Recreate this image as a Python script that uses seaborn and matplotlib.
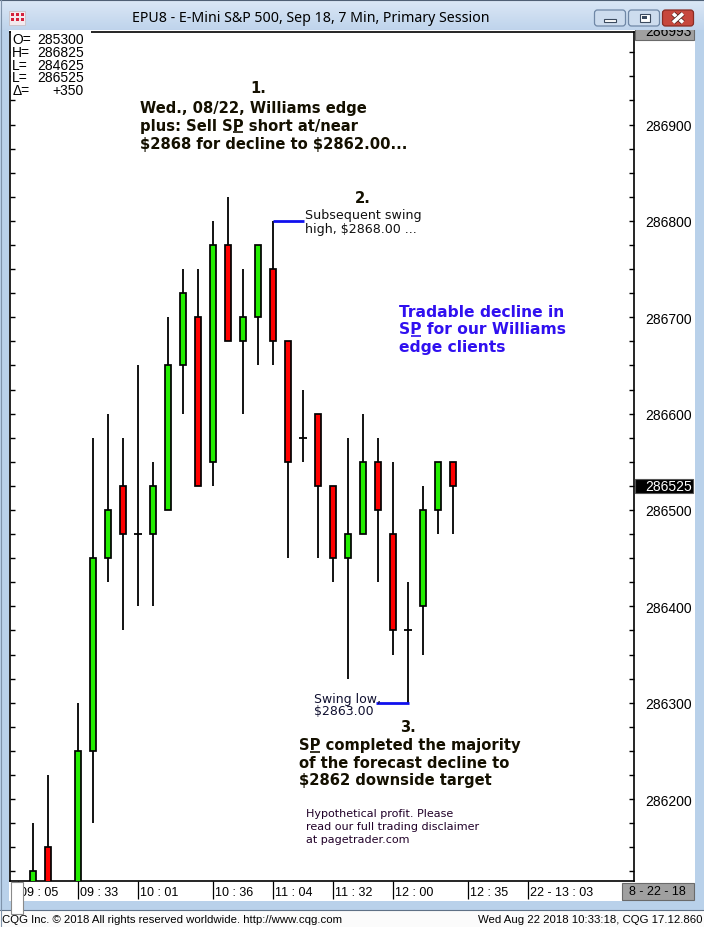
import numpy as np
import pandas as pd
import matplotlib
matplotlib.use("Agg")
import matplotlib.pyplot as plt
import matplotlib.transforms as mtransforms
from matplotlib.patches import Rectangle, FancyBboxPatch
from matplotlib.ticker import MultipleLocator, FuncFormatter
import matplotlib.patheffects as pe
import seaborn as sns

# ---------------- data ----------------
times = ["09:12", "09:19", "09:26", "09:33", "09:40", "09:47", "09:54", "10:01",
         "10:08", "10:15", "10:22", "10:29", "10:36", "10:43", "10:50", "10:57",
         "11:04", "11:11", "11:18", "11:25", "11:32", "11:39", "11:46", "11:53",
         "12:00", "12:07", "12:14", "12:21", "12:28"]
opens = [286050, 286150, 286050, 286075, 286250, 286450, 286525, 286475,
         286475, 286500, 286650, 286700, 286550, 286775, 286675, 286700,
         286750, 286675, 286575, 286600, 286525, 286450, 286475, 286550,
         286475, 286375, 286400, 286500, 286550]
highs = [286175, 286225, 286100, 286300, 286575, 286600, 286575, 286650,
         286550, 286700, 286750, 286750, 286800, 286825, 286750, 286775,
         286800, 286675, 286625, 286600, 286525, 286575, 286600, 286575,
         286550, 286425, 286525, 286550, 286550]
lows = [286000, 286025, 285975, 286050, 286175, 286425, 286375, 286400,
        286400, 286500, 286600, 286525, 286525, 286675, 286600, 286650,
        286650, 286450, 286550, 286450, 286425, 286325, 286475, 286425,
        286350, 286300, 286350, 286475, 286475]
closes = [286125, 286050, 286075, 286250, 286450, 286500, 286475, 286475,
          286525, 286650, 286725, 286525, 286775, 286675, 286700, 286775,
          286675, 286550, 286575, 286525, 286450, 286475, 286550, 286500,
          286375, 286375, 286500, 286550, 286525]

tick_times = ["09:05", "09:33", "10:01", "10:36", "11:04", "11:32", "12:00", "12:35", "13:03"]
tick_labels = ["09 : 05", "09 : 33", "10 : 01", "10 : 36", "11 : 04", "11 : 32",
               "12 : 00", "12 : 35", "22 - 13 : 03"]
date_label = "8 - 22 - 18"

info_names = ["O=", "H=", "L=", "L=", "\u0394="]
info_values = ["285300", "286825", "284625", "286525", "+350"]

last_price = 286525
top_value = "286993"
y_range = (286115, 286996)
swing_high = 286800
swing_low = 286300

title = "EPU8 - E-Mini S&P 500, Sep 18, 7 Min, Primary Session"
footer_left = "CQG Inc. \u00a9 2018 All rights reserved worldwide. http://www.cqg.com"
footer_right = "Wed Aug 22 2018 10:33:18, CQG 17.12.860"

# ---------------- setup ----------------
sns.set_style("white")
plt.rcParams["font.family"] = ["DejaVu Sans"]

W, H = 704, 928
fig = plt.figure(figsize=(W / 100, H / 100), dpi=100)


def tomin(t):
    h, m = t.split(":")
    return int(h) * 60 + int(m)


t0 = tomin(times[0])
df = pd.DataFrame(dict(time=times, open=opens, high=highs, low=lows, close=closes))
df["idx"] = [(tomin(t) - t0) / 7 for t in df.time]
tick_pos = [(tomin(t) - t0) / 7 for t in tick_times]

# background / window chrome
ax_bg = fig.add_axes([0, 0, 1, 1], zorder=0)
ax_bg.set_xlim(0, W)
ax_bg.set_ylim(H, 0)
ax_bg.axis("off")
ax_bg.add_patch(Rectangle((0, 0), W, H, facecolor="#b9d1ea", edgecolor="none"))
ax_bg.add_patch(Rectangle((9, 31), 686, 871, facecolor="white", edgecolor="none"))
ax_bg.add_patch(Rectangle((0, 910.5), W, 18, facecolor="#fbfbfb", edgecolor="none"))
ax_bg.plot([0, W], [910.5, 910.5], color="#5f7186", lw=0.8)

# ---------------- main chart ----------------
L, R, T, B = 10, 634, 33, 882
ax = fig.add_axes([L / W, 1 - B / H, (R - L) / W, (B - T) / H], zorder=1)
ax.set_facecolor("white")
ax.set_xlim(-1.533, 40.07)
ax.set_ylim(*y_range)

green, red = "#22ee00", "#ff0000"
ax.vlines(df.idx, df.low, df.high, colors="black", linewidth=1.3, zorder=2)
body = df[df.open != df.close]
ax.bar(body.idx, (body.close - body.open).abs(),
       bottom=body[["open", "close"]].min(axis=1), width=0.38,
       color=[green if c > o else red for o, c in zip(body.open, body.close)],
       edgecolor="black", linewidth=1.25, zorder=3)
doji = df[df.open == df.close]
ax.hlines(doji.open, doji.idx - 0.27, doji.idx + 0.27, colors="black", linewidth=1.3, zorder=3)

# swing markers
hi_i = df.idx[df.high == swing_high].iloc[-1]
lo_i = df.idx[df.low == swing_low].iloc[-1]
ax.hlines(swing_high, hi_i, hi_i + 2.07, colors="#1010ee", linewidth=2.0, zorder=4)
ax.hlines(swing_low, lo_i - 2.1, lo_i + 0.08, colors="#1010ee", linewidth=2.0, zorder=4)

for s in ax.spines.values():
    s.set_visible(True)
    s.set_color("black")
    s.set_linewidth(1.2)

ax.yaxis.set_major_locator(MultipleLocator(100))
ax.yaxis.set_minor_locator(MultipleLocator(25))
ax.yaxis.set_major_formatter(FuncFormatter(lambda v, p: f"{v:.0f}"))
ax.tick_params(axis="y", which="both", direction="in", length=3.4, width=1.0,
               left=True, right=True, labelleft=False, labelright=True, color="black")
ax.tick_params(axis="y", which="major", labelsize=10, pad=8, labelcolor="black")
for lab in ax.get_yticklabels():
    lab.set_family(["Liberation Sans"])

ax.set_xticks(tick_pos)
ax.set_xticklabels([""] * len(tick_pos))
ax.tick_params(axis="x", direction="out", length=13, width=0.9, color="black",
               bottom=True, top=False)
blend = mtransforms.blended_transform_factory(ax.transData, ax.transAxes)
off = mtransforms.ScaledTranslation(2.5 / 100, 0, fig.dpi_scale_trans)
for p, lab in zip(tick_pos, tick_labels):
    ax.text(p, -10.5 / (B - T), lab, transform=blend + off, ha="left", va="center",
            fontsize=9, family=["Liberation Sans"], color="black", clip_on=False)

# last price box
bl2 = mtransforms.blended_transform_factory(ax.transAxes, ax.transData)
hpx = 7.0 / ((B - T) / (y_range[1] - y_range[0]))
ax.add_patch(Rectangle((1.002, last_price - hpx), 0.093, 2 * hpx, transform=bl2,
                       facecolor="black", edgecolor="#555555", lw=0.8, clip_on=False, zorder=5))
ax.text((645 - L) / (R - L), last_price, f"{last_price}", transform=bl2, ha="left",
        va="center", fontsize=10, family=["Liberation Sans"], color="white",
        clip_on=False, zorder=6)

# ---------------- foreground: texts & chrome ----------------
ax_fg = fig.add_axes([0, 0, 1, 1], zorder=2)
ax_fg.set_xlim(0, W)
ax_fg.set_ylim(H, 0)
ax_fg.axis("off")
ax_fg.patch.set_alpha(0)

renderer = fig.canvas.get_renderer()


def text_block(lines, x, baselines, size, weight, color, family=("DejaVu Sans",),
               underline=None):
    for i, (line, yb) in enumerate(zip(lines, baselines)):
        ax_fg.text(x, yb, line, ha="left", va="baseline", fontsize=size,
                   fontweight=weight, color=color, family=list(family),
                   parse_math=False, zorder=6)
    if underline:
        li, ci = underline
        line, yb = lines[li], baselines[li]
        ws = []
        for pre in (line[:ci], line[:ci + 1]):
            if pre == "":
                ws.append(0)
                continue
            t = ax_fg.text(x, yb, pre, ha="left", va="baseline", fontsize=size,
                           fontweight=weight, family=list(family), parse_math=False)
            ws.append(t.get_window_extent(renderer).width)
            t.remove()
        ax_fg.plot([x + ws[0] + 0.5, x + ws[1] - 0.5], [yb + 2.5, yb + 2.5],
                   color=color, lw=1.2, solid_capstyle="butt")


dark = "#141000"
blue = "#3010f0"
bsize = 10.6

ax_fg.text(258, 92.7, "1.", ha="center", va="baseline", fontsize=bsize,
           fontweight="bold", color=dark)
text_block(["Wed., 08/22, Williams edge", "plus: Sell SP short at/near",
            "$2868 for decline to $2862.00..."], 140, [113.3, 130.9, 148.5],
           bsize, "bold", dark, underline=(1, 12))

ax_fg.text(363, 202.7, "2.", ha="center", va="baseline", fontsize=bsize,
           fontweight="bold", color=dark)
text_block(["Subsequent swing", "high, $2868.00 ..."], 305, [219, 233], 9.1,
           "normal", "#101010")

text_block(["Tradable decline in", "SP for our Williams", "edge clients"], 399,
           [316.7, 334.3, 352], 11.2, "bold", blue, underline=(1, 1))

text_block(["Swing low,", "$2863.00"], 314.3, [702.7, 715.5], 9.0, "normal", "#101030")
ax_fg.text(408.3, 731.7, "3.", ha="center", va="baseline", fontsize=bsize,
           fontweight="bold", color=dark)
text_block(["SP completed the majority", "of the forecast decline to",
            "$2862 downside target"], 299.3, [750, 767.6, 785.3], bsize, "bold", dark,
           underline=(0, 1))
text_block(["Hypothetical profit. Please", "read our full trading disclaimer",
            "at pagetrader.com"], 305.7, [816.7, 829.6, 842.7], 8.05, "normal", "#200028")

# OHLC info box
ax_fg.add_patch(Rectangle((11.4, 29), 80, 69, facecolor="white", edgecolor="none", zorder=3))
for k, (nm, val) in enumerate(zip(info_names, info_values)):
    yb = 44.3 + k * 12.7
    ax_fg.text(12.3, yb, nm, ha="left", va="baseline", fontsize=10,
               family=["Liberation Sans", "DejaVu Sans"], color="black", zorder=4)
    ax_fg.text(83.5, yb, val, ha="right", va="baseline", fontsize=10,
               family=["Liberation Sans"], color="black", zorder=4)

# top axis value box (cut by title bar)
ax_fg.add_patch(Rectangle((635, 22), 59, 19, facecolor="#a0a0a0", edgecolor="#6a6a6a",
                          lw=0.8, zorder=4))
ax_fg.text(645, 31.5, top_value, ha="left", va="center", fontsize=10,
           family=["Liberation Sans"], color="black", zorder=5)

# date box & left corner box
ax_fg.add_patch(Rectangle((622, 884), 71.5, 17, facecolor="#a0a0a0", edgecolor="#6a6a6a",
                          lw=0.8, zorder=4))
ax_fg.text(657.5, 892.5, date_label, ha="center", va="center", fontsize=9,
           family=["Liberation Sans"], color="black", zorder=5)
ax_fg.add_patch(Rectangle((10.5, 883), 12.5, 32, facecolor="white", edgecolor="#8a8a8a",
                          lw=0.8, zorder=4))

# title bar
grad = np.linspace(0, 1, 31)[:, None, None]
top_c = np.array([0.86, 0.91, 0.965])
bot_c = np.array([0.75, 0.83, 0.925])
img = top_c * (1 - grad) + bot_c * grad
ax_fg.imshow(img, extent=(0, W, 31, 0), aspect="auto", zorder=9, interpolation="bilinear")
ax_fg.set_xlim(0, W)
ax_fg.set_ylim(H, 0)
ax_fg.plot([0, W], [0.5, 0.5], color="#4f6075", lw=0.8, zorder=10)
ax_fg.plot([0.5, 0.5], [0, H], color="#7f93aa", lw=0.8, zorder=10)
ax_fg.text(311, 19, title, ha="center", va="center", fontsize=10.2,
           family=["Noto Sans"], color="black", zorder=11)

# app icon
ax_fg.add_patch(Rectangle((9, 12), 16, 14, facecolor="#f3e9ee", edgecolor="#c9c0c5", lw=0.6, zorder=10))
for (ix, iy) in [(11, 14), (16, 14), (21, 14), (11, 19), (16, 19), (21, 19)]:
    ax_fg.add_patch(Rectangle((ix, iy), 3, 3, facecolor="#d4213b", edgecolor="none", zorder=11))

# window buttons
for (bx, fc, ec) in [(594.5, "#cddcee", "#6f87a6"), (628.5, "#cddcee", "#6f87a6"),
                     (662.5, "#c7483e", "#8a2c24")]:
    ax_fg.add_patch(FancyBboxPatch((bx, 11), 31, 16, boxstyle="round,pad=0,rounding_size=3",
                                   facecolor=fc, edgecolor=ec, lw=0.9, zorder=10))
ax_fg.add_patch(Rectangle((604, 19.5), 12, 3.5, facecolor="white", edgecolor="#3b4a5e", lw=0.8, zorder=11))
ax_fg.add_patch(Rectangle((639.5, 14.5), 10, 8, facecolor="white", edgecolor="#3b4a5e", lw=0.8, zorder=11))
ax_fg.add_patch(Rectangle((642, 17), 5, 3, facecolor="#3b4a5e", edgecolor="none", zorder=12))
for xs, ys in [([673, 683], [14.5, 23.5]), ([673, 683], [23.5, 14.5])]:
    ax_fg.plot(xs, ys, color="white", lw=2.6, zorder=12, solid_capstyle="butt",
               path_effects=[pe.Stroke(linewidth=3.6, foreground="#4a1a15"), pe.Normal()])

# footer
ax_fg.text(2, 920, footer_left, ha="left", va="center", fontsize=8.2,
           family=["Liberation Sans"], color="black", zorder=10)
ax_fg.text(703, 920, footer_right, ha="right", va="center", fontsize=8.2,
           family=["Liberation Sans"], color="black", zorder=10)

fig.savefig("out.png", dpi=100)
